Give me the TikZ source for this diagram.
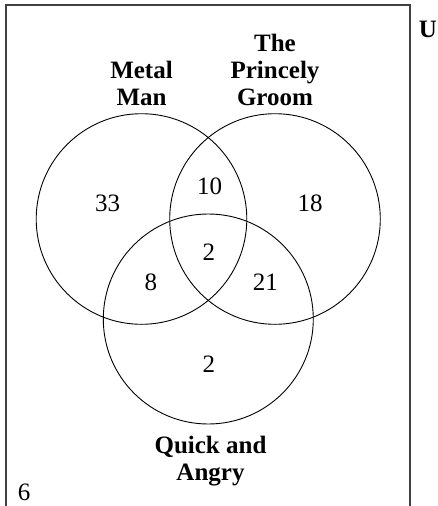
\documentclass[tikz,border=0pt]{standalone}
\usepackage{fontspec}
\setmainfont{Liberation Serif}
\begin{document}
\begin{tikzpicture}[x=1pt,y=-1pt,
  setc/.style={draw=black,line width=0.9pt},
  frame/.style={draw=black!75,line width=1.3pt},
  num/.style={inner sep=0pt,anchor=base,font=\fontsize{25}{27}\selectfont},
  lab/.style={inner sep=0pt,anchor=base,align=center,font=\fontsize{25}{26.7}\selectfont\bfseries}]
\useasboundingbox (0,0) rectangle (438,506);
\coordinate (bl) at (6,507);
\coordinate (tl) at (6,5);
\coordinate (tr) at (410,5);
\coordinate (br) at (410,507);
\draw[frame] (bl) -- (tl) -- (tr) -- (br);
\coordinate (cA) at (141.5,219);
\coordinate (cB) at (275,219);
\coordinate (cC) at (208.3,319);
\draw[setc] (cA) circle[radius=105.3];
\draw[setc] (cB) circle[radius=105.3];
\draw[setc] (cC) circle[radius=105];
\node[lab] (la) at (141.5,105) {Metal\\Man};
\node[lab] (lb) at (275,105) {The\\Princely\\Groom};
\node[lab] (lc) at (210.5,480) {Quick and\\Angry};
\node[lab] (lu) at (428,37.7) {U};
\node[num] (n6) at (24,500.7) {6};
\node[num] (n33) at (107.5,211.7) {33};
\node[num] (n10) at (209.7,194.3) {10};
\node[num] (n18) at (310,211.7) {18};
\node[num] (n2a) at (208.8,260.7) {2};
\node[num] (n8) at (150.8,290) {8};
\node[num] (n21) at (265.3,290) {21};
\node[num] (n2b) at (208.8,372.3) {2};
\end{tikzpicture}
\end{document}
